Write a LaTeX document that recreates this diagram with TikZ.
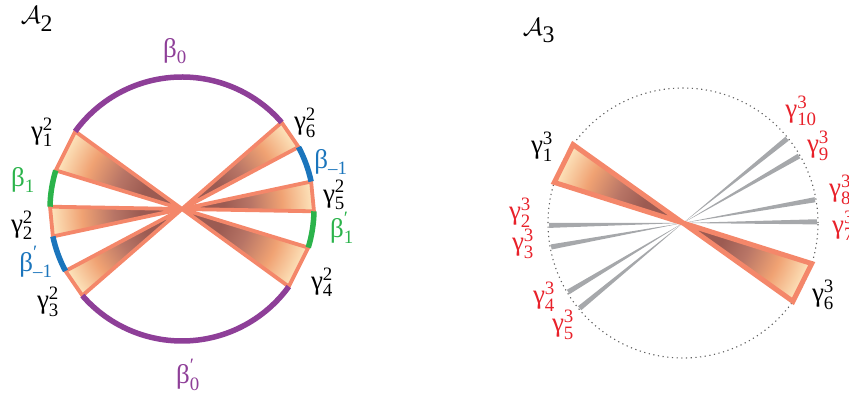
\documentclass[tikz,border=0pt]{standalone}
\usepackage{amsmath}
\usepackage{fontspec}
\setmainfont{Liberation Serif}
\usetikzlibrary{calc}
\definecolor{wdark}{HTML}{9C5B52}
\definecolor{wmauve}{HTML}{B87566}
\definecolor{wmid}{HTML}{F0A273}
\definecolor{wlight}{HTML}{FDE6BE}
\definecolor{wline}{HTML}{F4876A}
\definecolor{apurple}{HTML}{8E3F98}
\definecolor{ablue}{HTML}{1B75BC}
\definecolor{agreen}{HTML}{2BB34B}
\definecolor{ared}{HTML}{E8212A}
\definecolor{agray}{HTML}{A6A8AB}
\pgfdeclareradialshading{wedgeshade}{\pgfpointorigin}{color(0bp)=(wdark); color(8bp)=(wdark); color(13bp)=(wmauve); color(19bp)=(wmid); color(25bp)=(wlight); color(50bp)=(wlight)}
\newcommand\orwedge[5]{%
  \begin{scope}
    \clip (#1) -- ($(#1)+(#2:#4)$) -- ($(#1)+(#3:#4)$) -- cycle;
    \shade[shading=wedgeshade] (#1) circle (#4);
  \end{scope}
  \draw[wedgeline, line width=#5] (#1) -- ($(#1)+(#2:#4)$) -- ($(#1)+(#3:#4)$) -- cycle;}
\newcommand\graywedge[3]{%
  \fill[agray] (#1) -- ($(#1)+(#2-1.1:#3)$) -- ($(#1)+(#2+1.1:#3)$) -- cycle;}
\newcommand\lbl[3]{$\text{#1}^{\text{#2}}_{\text{#3}}$}
\tikzset{
  wedgeline/.style={draw=wline, line join=miter, miter limit=4},
  arcline/.style={line width=5.5pt},
  lab/.style={inner sep=0pt, font=\fontsize{27}{32}\selectfont},
  title/.style={inner sep=0pt, font=\fontsize{34}{40}\selectfont},
}
\begin{document}
\begin{tikzpicture}[x=1pt,y=1pt]
\useasboundingbox (0,0) rectangle (849,396);
\coordinate (L) at (182,187);
\coordinate (R) at (683,173);
% ---------- left diagram ----------
\orwedge{L}{144}{163}{132}{3.8pt}
\orwedge{L}{324}{343}{132}{3.8pt}
\orwedge{L}{179}{192}{132}{3.8pt}
\orwedge{L}{-1}{12}{132}{3.8pt}
\orwedge{L}{208}{221}{132}{3.8pt}
\orwedge{L}{28}{41}{132}{3.8pt}
\draw[arcline, apurple] ($(L)+(41:132)$) arc[start angle=41, end angle=144, radius=132];
\draw[arcline, agreen] ($(L)+(163:132)$) arc[start angle=163, end angle=179, radius=132];
\draw[arcline, ablue] ($(L)+(192:132)$) arc[start angle=192, end angle=208, radius=132];
\draw[arcline, apurple] ($(L)+(221:132)$) arc[start angle=221, end angle=324, radius=132];
\draw[arcline, agreen] ($(L)+(343:132)$) arc[start angle=343, end angle=359, radius=132];
\draw[arcline, ablue] ($(L)+(12:132)$) arc[start angle=12, end angle=28, radius=132];
% labels left
\node[title] (A2) at (37,377) {$\mathcal{A}_{\text{2}}$};
\node[lab, apurple] (b0) at (175,345) {\lbl{β}{}{0}};
\node[lab, apurple] (b0p) at (188,21) {\lbl{β}{′}{0}};
\node[lab] (g12) at (42,264) {\lbl{γ}{2}{1}};
\node[lab, agreen] (b1) at (23,216) {\lbl{β}{}{1}};
\node[lab] (g22) at (22,171) {\lbl{γ}{2}{2}};
\node[lab, ablue] (bm1p) at (36,134) {\lbl{β}{′}{–1}};
\node[lab] (g32) at (48,94) {\lbl{γ}{2}{3}};
\node[lab] (g62) at (305,273) {\lbl{γ}{2}{6}};
\node[lab, ablue] (bm1) at (331,234) {\lbl{β}{}{–1}};
\node[lab] (g52) at (334,201) {\lbl{γ}{2}{5}};
\node[lab, agreen] (b1p) at (342,168) {\lbl{β}{′}{1}};
\node[lab] (g42) at (322,114) {\lbl{γ}{2}{4}};
% ---------- right diagram ----------
\draw[gray!75!black, line width=1.1pt, dash pattern=on 1.2pt off 3.5pt] (R) circle (135);
\graywedge{R}{181}{134}
\graywedge{R}{190.3}{134}
\graywedge{R}{211}{134}
\graywedge{R}{219.5}{134}
\graywedge{R}{0.5}{134}
\graywedge{R}{10}{134}
\graywedge{R}{30}{134}
\graywedge{R}{39}{134}
\orwedge{R}{144.5}{162.5}{135}{5pt}
\orwedge{R}{324.5}{342.5}{135}{5pt}
\node[title] (A3) at (539,365) {$\mathcal{A}_{\text{3}}$};
\node[lab] (g13) at (542,249) {\lbl{γ}{3}{1}};
\node[lab, ared] (g23) at (520,183) {\lbl{γ}{3}{2}};
\node[lab, ared] (g33) at (523,152) {\lbl{γ}{3}{3}};
\node[lab, ared] (g43) at (544,99) {\lbl{γ}{3}{4}};
\node[lab, ared] (g53) at (563,71) {\lbl{γ}{3}{5}};
\node[lab] (g63) at (823,101) {\lbl{γ}{3}{6}};
\node[lab, ared] (g73) at (843,170) {\lbl{γ}{3}{7}};
\node[lab, ared] (g83) at (840,206) {\lbl{γ}{3}{8}};
\node[lab, ared] (g93) at (818,250) {\lbl{γ}{3}{9}};
\node[lab, ared] (g103) at (801,285) {\lbl{γ}{3}{10}};
\end{tikzpicture}
\end{document}
